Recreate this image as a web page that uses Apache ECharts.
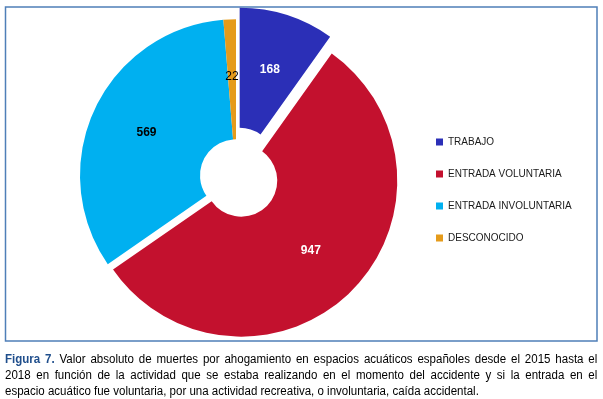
<!DOCTYPE html>
<html>
<head>
<meta charset="utf-8">
<script src="https://cdn.jsdelivr.net/npm/echarts@6/dist/echarts.min.js"></script>
<style>
    html, body { margin: 0; padding: 0; background: #fff; }
    #main { position: absolute; left: 0; top: 0; width: 603px; height: 399px; }
    .caption {
        position: absolute; left: 5px; top: 351px; width: 617px;
        transform: scaleX(0.96); transform-origin: 0 0;
        font-family: "Liberation Sans", Arial, sans-serif;
        font-size: 12px; line-height: 16px; color: #000;
    }
    .caption .ln { text-align: justify; text-align-last: justify; white-space: nowrap; }
    .caption .ln.last { text-align: left; text-align-last: left; }
    .caption .fig { color: #1f4e8c; font-weight: bold; }
</style>
</head>
<body>
<div id="main"></div>
<div class="caption">
    <div class="ln"><span class="fig">Figura 7.</span> Valor absoluto de muertes por ahogamiento en espacios acuáticos españoles desde el 2015 hasta el</div>
    <div class="ln">2018 en función de la actividad que se estaba realizando en el momento del accidente y si la entrada en el</div>
    <div class="ln last">espacio acuático fue voluntaria, por una actividad recreativa, o involuntaria, caída accidental.</div>
</div>
<script>
    // datos de la figura
    var categorias = ['TRABAJO', 'ENTRADA VOLUNTARIA', 'ENTRADA INVOLUNTARIA', 'DESCONOCIDO'];
    var valores = [168, 947, 569, 22];
    var colores = ['#2b2fb7', '#c3112e', '#00b0f0', '#e59b1b'];
    var colorEtiqueta = ['#fff', '#fff', '#000', '#000'];
    var negrita = ['bold', 'bold', 'bold', 'normal'];
    var separado = [12, 7.5, 0, 0];

    var chart = echarts.init(document.getElementById('main'));

    // una serie por cada desplazamiento distinto (selectedOffset es de la serie)
    function serie(offset) {
        var datos = [];
        for (var i = 0; i < categorias.length; i++) {
            var mio = separado[i] == offset;
            datos.push({
                name: categorias[i],
                value: valores[i],
                selected: mio && offset > 0,
                itemStyle: {color: mio ? colores[i] : 'rgba(0,0,0,0)'},
                label: {show: mio, color: colorEtiqueta[i], fontWeight: negrita[i]}
            });
        }
        return {
            type: 'pie',
            center: [236, 175.3],
            radius: [36, 156],
            startAngle: 90,
            clockwise: true,
            selectedMode: 'multiple',
            selectedOffset: offset,
            avoidLabelOverlap: false,
            emphasis: {disabled: true},
            silent: true,
            label: {
                position: 'inside',
                formatter: '{c}',
                fontFamily: '"Liberation Sans", Arial, sans-serif',
                fontSize: 12
            },
            labelLine: {show: false},
            data: datos
        };
    }

    var offsets = [];
    separado.forEach(function (s) { if (offsets.indexOf(s) < 0) offsets.push(s); });

    var leyenda = categorias.map(function (c, i) {
        return {name: c, itemStyle: {color: colores[i]}};
    });

    var option = {
        animation: false,
        graphic: [{
            type: 'rect',
            shape: {x: 5.5, y: 7, width: 591.5, height: 334},
            style: {fill: 'none', stroke: '#4f7fb8', lineWidth: 1.5},
            silent: true,
            z: -1
        }],
        legend: {
            orient: 'vertical',
            left: 436,
            top: 136,
            padding: 0,
            icon: 'rect',
            itemWidth: 7,
            itemHeight: 7,
            itemGap: 20,
            selectedMode: false,
            data: leyenda,
            textStyle: {
                fontFamily: '"Liberation Sans", Arial, sans-serif',
                fontSize: 10,
                lineHeight: 12,
                color: '#1a1a1a'
            }
        },
        series: offsets.map(serie)
    };

    chart.setOption(option);
</script>
</body>
</html>
